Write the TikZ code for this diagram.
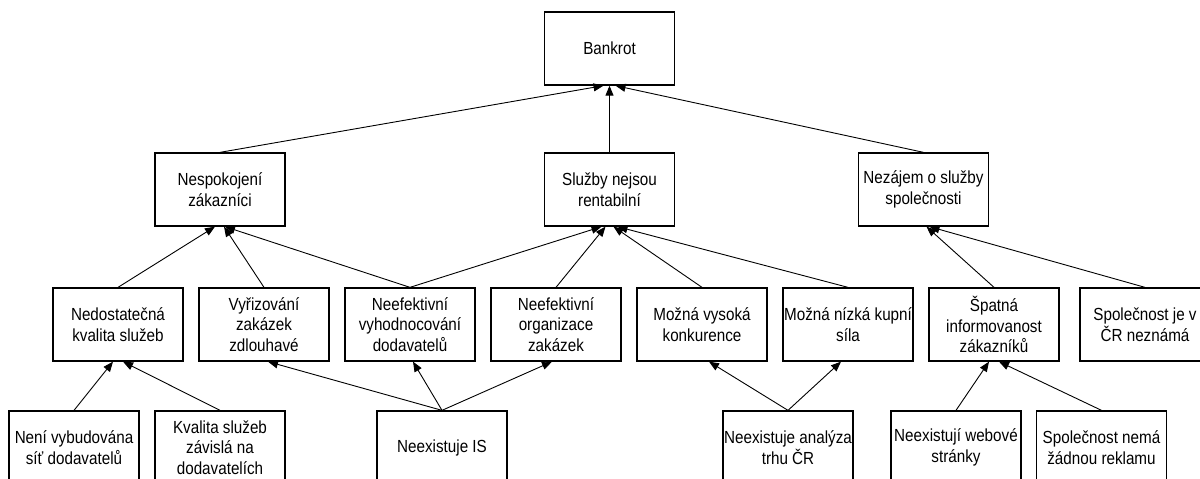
\documentclass[tikz,border=0pt]{standalone}
\usepackage{fontspec}
\setmainfont{Liberation Sans}[FakeStretch=0.87]
\usetikzlibrary{arrows.meta}
\begin{document}
\begin{tikzpicture}[x=1pt,y=-1pt,
  box/.style={draw=black, line width=1.3pt, fill=white, minimum width=130pt,
    minimum height=73pt, inner sep=0pt, align=center,
    font=\fontsize{17.5}{20.5}\selectfont},
  link/.style={draw=black, line width=0.9pt, -{Triangle[length=10pt,width=8pt]}}]
\useasboundingbox (0,0) rectangle (1200,479);
\clip (0,0) rectangle (1200,479);

% level 1
\node[box] (bankrot) at (609.5,48.5) {Bankrot};

% level 2
\node[box] (nespok) at (220,189.5) {Nespokojení\\zákazníci};
\node[box] (sluzby) at (609.5,189.5) {Služby nejsou\\rentabilní};
\node[box] (nezajem) at (923.5,189.5) {Nezájem o služby\\společnosti};

% level 3
\node[box] (kvalita) at (118,324.5) {Nedostatečná\\kvalita služeb};
\node[box] (vyrizovani) at (264,324.5) {Vyřizování\\zakázek\\zdlouhavé};
\node[box] (vyhodnoc) at (410,324.5) {Neefektivní\\vyhodnocování\\dodavatelů};
\node[box] (organizace) at (556,324.5) {Neefektivní\\organizace\\zakázek};
\node[box] (konkurence) at (702,324.5) {Možná vysoká\\konkurence};
\node[box] (kupni) at (848,324.5) {Možná nízká kupní\\síla};
\node[box] (informov) at (994,324.5) {Špatná\\informovanost\\zákazníků};
\node[box] (neznama) at (1145,324.5) {Společnost je v\\ČR neznámá};

% level 4
\node[box] (sit) at (74,447.5) {Není vybudována\\síť dodavatelů};
\node[box] (zavisla) at (220,447.5) {Kvalita služeb\\závislá na\\dodavatelích};
\node[box] (is) at (442,447.5) {Neexistuje IS};
\node[box] (analyza) at (788,447.5) {Neexistuje analýza\\trhu ČR};
\node[box] (web) at (956,447.5) {Neexistují webové\\stránky};
\node[box] (reklama) at (1101.5,447.5) {Společnost nemá\\žádnou reklamu};

% causes -> effects
\draw[link] (nespok.north) -- ([xshift=-6pt]bankrot.south);
\draw[link] (sluzby.north) -- (bankrot.south);
\draw[link] (nezajem.north) -- ([xshift=6pt]bankrot.south);

\draw[link] (kvalita.north) -- ([xshift=-5pt]nespok.south);
\draw[link] (vyrizovani.north) -- ([xshift=4pt]nespok.south);
\draw[link] (vyhodnoc.north) -- ([xshift=5pt]nespok.south);

\draw[link] (vyhodnoc.north) -- ([xshift=-8pt]sluzby.south);
\draw[link] (organizace.north) -- ([xshift=-4pt]sluzby.south);
\draw[link] (konkurence.north) -- ([xshift=4pt]sluzby.south);
\draw[link] (kupni.north) -- ([xshift=8pt]sluzby.south);

\draw[link] (informov.north) -- ([xshift=3pt]nezajem.south);
\draw[link] (neznama.north) -- ([xshift=6pt]nezajem.south);

\draw[link] (sit.north) -- ([xshift=-5pt]kvalita.south);
\draw[link] (zavisla.north) -- ([xshift=5pt]kvalita.south);

\draw[link] (is.north) -- ([xshift=4pt]vyrizovani.south);
\draw[link] (is.north) -- ([xshift=3pt]vyhodnoc.south);
\draw[link] (is.north) -- ([xshift=-4pt]organizace.south);

\draw[link] (analyza.north) -- ([xshift=7pt]konkurence.south);
\draw[link] (analyza.north) -- ([xshift=-7pt]kupni.south);

\draw[link] (web.north) -- ([xshift=-5pt]informov.south);
\draw[link] (reklama.north) -- ([xshift=5pt]informov.south);
\end{tikzpicture}
\end{document}
